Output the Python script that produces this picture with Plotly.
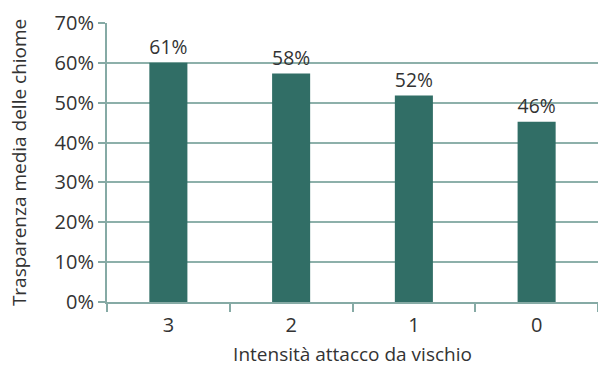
import plotly.graph_objects as go

# data
categories = ["3", "2", "1", "0"]
values = [60.0, 57.3, 51.8, 45.2]
labels = ["61%", "58%", "52%", "46%"]
y_ticks = [0, 10, 20, 30, 40, 50, 60, 70]
y_ticklabels = ["0%", "10%", "20%", "30%", "40%", "50%", "60%", "70%"]

font_family = "Open Sans, sans-serif"
axis_col = "#86aaa5"

fig = go.Figure(go.Bar(
    x=categories,
    y=values,
    text=labels,
    textposition="outside",
    textfont=dict(size=21, color="#333333"),
    cliponaxis=False,
    marker=dict(color="#316e66", line=dict(width=0)),
))

fig.update_layout(
    width=598, height=367,
    margin=dict(l=107, r=0, t=23, b=65),
    paper_bgcolor="white", plot_bgcolor="white",
    font=dict(family=font_family, size=18, color="#333333"),
    bargap=0.69,
    showlegend=False,
)

fig.update_xaxes(
    title=dict(text="Intensità attacco da vischio", font=dict(size=19)),
    automargin=False,
    showline=True, linecolor=axis_col, linewidth=2,
    ticks="outside", tickson="boundaries", ticklen=8, tickcolor=axis_col, tickwidth=2,
    tickfont=dict(size=20), ticklabelstandoff=4,
)
fig.update_yaxes(
    automargin=False,
    range=[0, 70], tickvals=y_ticks, ticktext=y_ticklabels,
    showline=True, linecolor=axis_col, linewidth=2,
    showgrid=True, gridcolor="#8db0aa", gridwidth=2,
    ticks="outside", ticklen=7, tickcolor=axis_col, tickwidth=2,
    tickfont=dict(size=20),
    zeroline=False,
)

# y title placed as an annotation so it sits near the left edge
fig.add_annotation(
    text="Trasparenza media delle chiome",
    xref="paper", yref="paper", x=-0.18, y=0.5,
    xanchor="center", yanchor="middle", textangle=-90,
    showarrow=False, font=dict(size=19),
)

# remove default page margin so the figure fills the window
fig.write_html("out.html",
               config={"displayModeBar": False},
               post_script="document.body.style.margin='0';document.body.style.overflow='hidden';")
